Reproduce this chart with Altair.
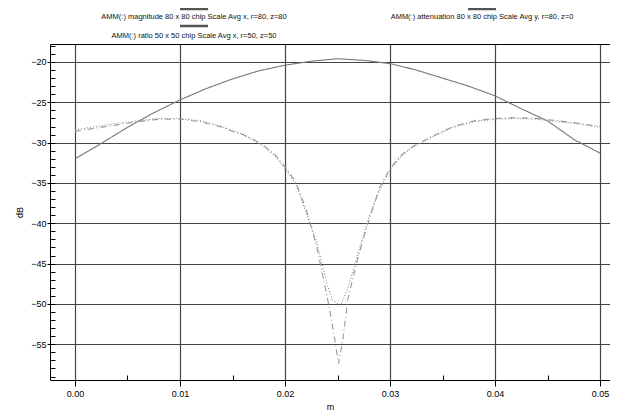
import altair as alt
import pandas as pd

# ---- data ----
series_names = ["magnitude", "attenuation", "ratio"]

x1 = [0.0, 0.0025, 0.005, 0.0075, 0.01, 0.0125, 0.015, 0.0175, 0.02, 0.0225, 0.025,
      0.0275, 0.03, 0.0325, 0.035, 0.0375, 0.04, 0.0425, 0.045, 0.0475, 0.05]
y1 = [-32.0, -30.1, -28.1, -26.3, -24.7, -23.3, -22.1, -21.1, -20.4, -19.9, -19.6,
      -19.8, -20.2, -21.0, -22.0, -23.0, -24.2, -25.8, -27.3, -29.6, -31.3]

x2 = [0.0, 0.002, 0.004, 0.006, 0.008, 0.010, 0.012, 0.014, 0.015, 0.016, 0.017, 0.018,
      0.019, 0.020, 0.021, 0.022, 0.023, 0.024, 0.0245, 0.0251, 0.0255, 0.026, 0.027,
      0.028, 0.029, 0.030, 0.031, 0.032, 0.033, 0.034, 0.036, 0.038, 0.040, 0.042,
      0.044, 0.046, 0.048, 0.050]
y2 = [-28.6, -28.2, -27.8, -27.4, -27.1, -27.1, -27.4, -28.1, -28.6, -29.0, -29.6, -30.4,
      -31.4, -33.0, -34.8, -38.2, -42.8, -49.0, -52.5, -57.4, -54.5, -49.3, -44.0,
      -39.6, -35.6, -33.2, -31.6, -30.6, -29.9, -29.2, -28.0, -27.3, -27.0, -26.9,
      -27.0, -27.3, -27.6, -28.0]

x3 = [0.0, 0.002, 0.004, 0.006, 0.008, 0.010, 0.012, 0.014, 0.015, 0.016, 0.017, 0.018,
      0.019, 0.020, 0.021, 0.022, 0.023, 0.024, 0.0245, 0.0253, 0.026, 0.027,
      0.028, 0.029, 0.030, 0.031, 0.032, 0.033, 0.034, 0.036, 0.038, 0.040, 0.042,
      0.044, 0.046, 0.048, 0.050]
y3 = [-28.4, -28.0, -27.6, -27.3, -27.0, -27.0, -27.3, -28.0, -28.5, -29.0, -29.7, -30.5,
      -31.6, -33.2, -35.1, -38.6, -42.2, -47.5, -49.5, -50.2, -48.0, -43.5,
      -39.2, -35.9, -33.4, -31.8, -30.7, -30.0, -29.3, -28.1, -27.4, -27.1, -27.0,
      -27.1, -27.4, -27.7, -28.1]

legend_labels = [
    "AMM(:) magnitude 80 x 80 chip Scale Avg x, r=80, z=80",
    "AMM(:) ratio 50 x 50 chip Scale Avg x, r=50, z=50",
    "AMM(:) attenuation 80 x 80 chip Scale Avg y, r=80, z=0",
]

x_ticks = [0.0, 0.01, 0.02, 0.03, 0.04, 0.05]
x_minor = [0.005, 0.015, 0.025, 0.035, 0.045]
y_ticks = [-20, -25, -30, -35, -40, -45, -50, -55]
y_minor = list(range(-59, -17))

rows = []
for name, xs, ys in zip(series_names, [x1, x2, x3], [y1, y2, y3]):
    for i, (xv, yv) in enumerate(zip(xs, ys)):
        rows.append({"series": name, "m": xv, "dB": yv, "order": i})
df = pd.DataFrame(rows)

FONT = "Liberation Sans"
x_scale = alt.Scale(domain=[-0.00238, 0.05095], nice=False, zero=False)
y_scale = alt.Scale(domain=[-59.43, -17.77], nice=False, zero=False)

lines = alt.Chart(df).mark_line(strokeWidth=1.1).encode(
    x=alt.X("m:Q", scale=x_scale, axis=alt.Axis(
        values=x_ticks, format=".2f", title="m", grid=True, gridColor="#444",
        gridWidth=1.2, tickSize=6, tickColor="#000", domainColor="#000",
        labelFont=FONT, labelFontSize=9, labelColor="#000", labelPadding=3,
        titleFont=FONT, titleFontSize=9, titleFontWeight="normal", titleColor="#000",
        titlePadding=4)),
    y=alt.Y("dB:Q", scale=y_scale, axis=alt.Axis(
        values=y_ticks, format="d", title="dB", grid=True, gridColor="#444",
        gridWidth=1.2, tickSize=3, tickColor="#000", domainColor="#000",
        labelFont=FONT, labelFontSize=9, labelColor="#000", labelPadding=1,
        titleFont=FONT, titleFontSize=9, titleFontWeight="normal", titleColor="#000",
        titlePadding=6)),
    color=alt.Color("series:N", scale=alt.Scale(domain=series_names,
                    range=["#777777", "#999999", "#888888"]), legend=None),
    strokeDash=alt.StrokeDash("series:N", scale=alt.Scale(domain=series_names,
                    range=[[1, 0], [6, 3, 1, 3], [1, 2]]), legend=None),
    order="order:Q",
)

minor = alt.Chart(df).mark_point(opacity=0).encode(
    x=alt.X("m:Q", scale=x_scale, axis=alt.Axis(
        orient="bottom", values=x_minor, labels=False, grid=False, domain=False,
        tickSize=5, offset=-5, tickColor="#000", title=None)),
    y=alt.Y("dB:Q", scale=y_scale, axis=alt.Axis(
        orient="left", values=y_minor, labels=False, grid=False, domain=False,
        tickSize=5, offset=-5, tickColor="#000", title=None)),
)

top = alt.Chart(df).mark_point(opacity=0).encode(
    x=alt.X("m:Q", scale=x_scale, axis=alt.Axis(
        orient="top", labels=False, ticks=False, grid=False, domain=True,
        domainColor="#000", domainWidth=1.2, title=None)),
    y=alt.Y("dB:Q", scale=y_scale, axis=None),
)

one = alt.Data(values=[{}])
leg_pos = [(144, -35, -27), (144, -18, -8), (432, -35, -27)]
legend_layers = []
for lab, (cx, ly, ty) in zip(legend_labels, leg_pos):
    legend_layers.append(
        alt.Chart(one).mark_rule(color="#555", strokeWidth=2.5).encode(
            x=alt.value(cx - 14), x2=alt.value(cx + 14), y=alt.value(ly)))
    legend_layers.append(
        alt.Chart(one).mark_text(font=FONT, fontSize=7.5, color="#111",
                                 align="center", baseline="middle").encode(
            x=alt.value(cx), y=alt.value(ty), text=alt.value(lab)))

chart = alt.layer(lines, minor, top, *legend_layers).resolve_axis(
    x="independent", y="independent"
).properties(
    width=560, height=336,
    padding={"left": 42, "top": 36, "right": 0, "bottom": 32},
    autosize=alt.AutoSizeParams(type="none"),
).configure_view(stroke=None)

chart.save("out.html", embed_options={"renderer": "svg", "actions": False})
